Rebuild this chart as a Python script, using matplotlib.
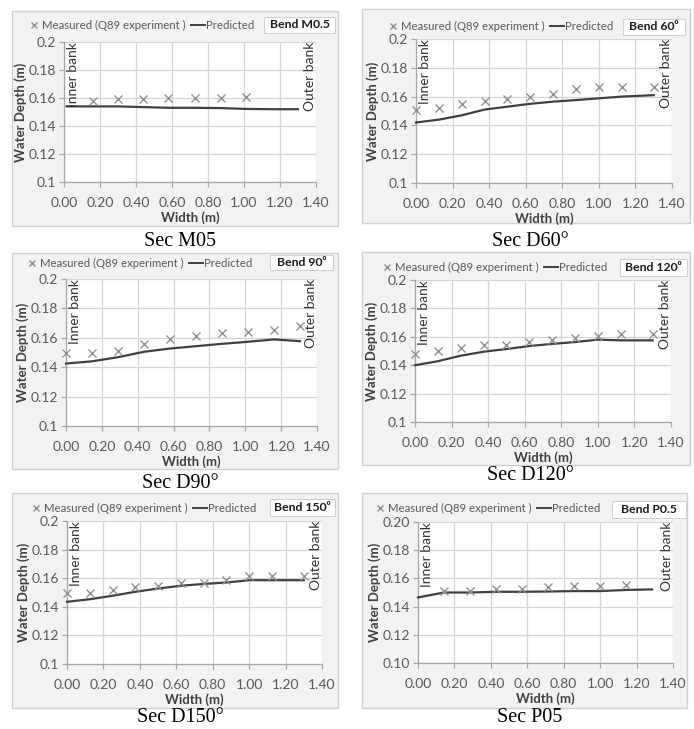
import matplotlib.pyplot as plt
from matplotlib.patches import Rectangle
from matplotlib.lines import Line2D

# ---- data ----
m05_meas_x = [0.16, 0.30, 0.44, 0.58, 0.73, 0.87, 1.01]
m05_meas_y = [0.158, 0.159, 0.159, 0.160, 0.160, 0.160, 0.161]
m05_pred_x = [0.015, 0.16, 0.30, 0.44, 0.58, 0.73, 0.87, 1.01, 1.15, 1.30]
m05_pred_y = [0.154, 0.154, 0.154, 0.1535, 0.153, 0.153, 0.1528, 0.1522, 0.152, 0.152]

d60_meas_x = [0.0, 0.125, 0.25, 0.375, 0.5, 0.625, 0.75, 0.875, 1.0, 1.125, 1.30]
d60_meas_y = [0.151, 0.152, 0.155, 0.157, 0.158, 0.160, 0.162, 0.165, 0.167, 0.167, 0.167]
d60_pred_x = [0.0, 0.125, 0.25, 0.375, 0.5, 0.625, 0.75, 0.875, 1.0, 1.125, 1.30]
d60_pred_y = [0.142, 0.144, 0.147, 0.151, 0.153, 0.155, 0.1565, 0.1576, 0.1588, 0.160, 0.161]

d90_meas_x = [0.0, 0.145, 0.29, 0.435, 0.58, 0.725, 0.87, 1.015, 1.16, 1.305]
d90_meas_y = [0.1495, 0.150, 0.151, 0.1555, 0.159, 0.161, 0.163, 0.164, 0.1655, 0.168]
d90_pred_x = [0.0, 0.145, 0.29, 0.435, 0.58, 0.725, 0.87, 1.015, 1.16, 1.305]
d90_pred_y = [0.1425, 0.144, 0.1468, 0.1505, 0.1527, 0.1543, 0.1559, 0.1573, 0.1589, 0.1577]

d120_meas_x = [0.0, 0.125, 0.25, 0.375, 0.5, 0.625, 0.75, 0.875, 1.0, 1.125, 1.30]
d120_meas_y = [0.148, 0.150, 0.152, 0.154, 0.154, 0.156, 0.158, 0.1595, 0.1607, 0.162, 0.162]
d120_pred_x = [0.0, 0.125, 0.25, 0.375, 0.5, 0.625, 0.75, 0.875, 1.0, 1.125, 1.30]
d120_pred_y = [0.140, 0.1428, 0.1467, 0.1495, 0.1514, 0.1535, 0.155, 0.1563, 0.158, 0.1575, 0.1575]

d150_meas_x = [0.0, 0.125, 0.25, 0.375, 0.5, 0.625, 0.75, 0.875, 1.0, 1.125, 1.30]
d150_meas_y = [0.150, 0.150, 0.152, 0.1535, 0.1547, 0.1563, 0.1565, 0.1586, 0.1612, 0.1616, 0.1616]
d150_pred_x = [0.0, 0.125, 0.25, 0.375, 0.5, 0.625, 0.75, 0.875, 1.0, 1.125, 1.30]
d150_pred_y = [0.1435, 0.1453, 0.1477, 0.1505, 0.1528, 0.1547, 0.156, 0.157, 0.1586, 0.1586, 0.1586]

p05_meas_x = [0.143, 0.285, 0.428, 0.57, 0.713, 0.855, 0.998, 1.14]
p05_meas_y = [0.1512, 0.1512, 0.1524, 0.1524, 0.1536, 0.1543, 0.1543, 0.155]
p05_pred_x = [0.0, 0.143, 0.285, 0.428, 0.57, 0.713, 0.855, 0.998, 1.14, 1.285]
p05_pred_y = [0.1465, 0.150, 0.150, 0.1505, 0.1505, 0.1507, 0.151, 0.151, 0.1518, 0.1522]

bend_labels = ["Bend M0.5", "Bend 60\u2070", "Bend 90\u2070", "Bend 120\u2070", "Bend 150\u2070", "Bend P0.5"]
captions = ["Sec M05", "Sec D60\u00b0", "Sec D90\u00b0", "Sec D120\u00b0", "Sec D150\u00b0", "Sec P05"]
x_ticks = [0.0, 0.2, 0.4, 0.6, 0.8, 1.0, 1.2, 1.4]
y_ticks = [0.10, 0.12, 0.14, 0.16, 0.18, 0.20]

# ---- layout in pixels: chart box, plot box, legend anchor, bend box, caption ----
W, H = 694, 729
layout = [
    dict(box=(12, 11, 338, 226), plot=(64, 42, 316, 182), leg=(27, 25), bend=(264, 17, 335, 33), cap=(180, 241)),
    dict(box=(362, 9, 690, 223), plot=(416, 39, 672, 183), leg=(386, 26), bend=(623, 19, 685, 35), cap=(530, 241)),
    dict(box=(12, 253, 338, 469), plot=(66, 279, 317, 426), leg=(25, 263), bend=(270, 255, 333, 270), cap=(180, 483)),
    dict(box=(362, 252, 690, 465), plot=(415, 280, 671, 422), leg=(380, 267), bend=(620, 259, 687, 276), cap=(530, 476)),
    dict(box=(12, 493, 338, 708), plot=(67, 521, 322, 664), leg=(29, 508), bend=(270, 499, 335, 516), cap=(180, 718)),
    dict(box=(362, 493, 687, 708), plot=(418, 522, 673, 663), leg=(373, 508), bend=(612, 501, 686, 518), cap=(530, 718)),
]
series = [
    (m05_meas_x, m05_meas_y, m05_pred_x, m05_pred_y),
    (d60_meas_x, d60_meas_y, d60_pred_x, d60_pred_y),
    (d90_meas_x, d90_meas_y, d90_pred_x, d90_pred_y),
    (d120_meas_x, d120_meas_y, d120_pred_x, d120_pred_y),
    (d150_meas_x, d150_meas_y, d150_pred_x, d150_pred_y),
    (p05_meas_x, p05_meas_y, p05_pred_x, p05_pred_y),
]

FONT = ["Lato", "DejaVu Sans"]
plt.rcParams["font.family"] = FONT


def fx(x):
    return x / W


def fy(y):
    return 1 - y / H


fig = plt.figure(figsize=(W / 100, H / 100), dpi=100)
fig.patch.set_facecolor("white")

for i, (lay, (mx, my, px, py)) in enumerate(zip(layout, series)):
    x0, y0, x1, y1 = lay["box"]
    fig.patches.append(Rectangle((fx(x0), fy(y1)), fx(x1 - x0), (y1 - y0) / H,
                                 transform=fig.transFigure, facecolor="#f2f2f2",
                                 edgecolor="#cfcfcf", lw=1.0, zorder=-5))
    a0, b0, a1, b1 = lay["plot"]
    ax = fig.add_axes([fx(a0), fy(b1), fx(a1 - a0), (b1 - b0) / H], zorder=2)
    ax.set_facecolor("white")
    ax.plot(px, py, color="#404040", lw=1.6, zorder=3, clip_on=False)
    ax.plot(mx, my, ls="none", marker="x", ms=6, mew=1.0, color="#919191", zorder=4, clip_on=False)
    ax.set_xlim(0, 1.4)
    ax.set_ylim(0.1, 0.2)
    ax.set_xticks(x_ticks)
    ax.set_yticks(y_ticks)
    ax.set_xticklabels(["%.2f" % v for v in x_ticks])
    if i == 5:
        ax.set_yticklabels(["%.2f" % v for v in y_ticks])
    else:
        ax.set_yticklabels(["%g" % round(v, 2) for v in y_ticks])
    ax.grid(True, color="#d4d4d4", lw=0.9)
    ax.set_axisbelow(True)
    for s in ["top", "right"]:
        ax.spines[s].set_visible(False)
    for s in ["left", "bottom"]:
        ax.spines[s].set_color("#a6a6a6")
        ax.spines[s].set_linewidth(0.9)
    ax.tick_params(colors="#a6a6a6", labelcolor="#595959", labelsize=10,
                   length=3.5, width=0.9, pad=2.5)
    ax.tick_params(axis="x", pad=7)
    ax.set_xlabel("Width (m)", fontsize=9.5, fontweight="bold", color="#404040", labelpad=2)
    ax.set_ylabel("Water Depth (m)", fontsize=9.5, fontweight="bold", color="#404040", labelpad=1)

    ax.text(0.012, 1.0, "Inner bank", transform=ax.transAxes, rotation=90,
            ha="left", va="top", fontsize=10, color="#333333")
    ax.text(1.0, 1.0, "Outer bank", transform=ax.transAxes, rotation=90,
            ha="right", va="top", fontsize=10, color="#333333")

    handles = [Line2D([], [], ls="none", marker="x", ms=5, mew=1.0, color="#919191"),
               Line2D([], [], color="#404040", lw=1.4)]
    lx, ly = lay["leg"]
    leg = fig.legend(handles, ["Measured (Q89 experiment )", "Predicted"], ncol=2,
                     loc="center left", bbox_to_anchor=(fx(lx), fy(ly)),
                     bbox_transform=fig.transFigure, frameon=False, fontsize=8.2,
                     labelcolor="#595959", handlelength=1.2, handletextpad=0.1,
                     columnspacing=0.5, borderaxespad=0, borderpad=0)
    leg.set_zorder(6)

    bx0, by0, bx1, by1 = lay["bend"]
    fig.patches.append(Rectangle((fx(bx0), fy(by1)), fx(bx1 - bx0), (by1 - by0) / H,
                                 transform=fig.transFigure, facecolor="white",
                                 edgecolor="#d0d0d0", lw=0.8, zorder=5))
    fig.text(fx((bx0 + bx1) / 2), fy((by0 + by1) / 2), bend_labels[i],
             ha="center", va="center", fontsize=8.8, fontweight="bold",
             color="#1a1a1a", zorder=7)

    cx, cy = lay["cap"]
    fig.text(fx(cx), fy(cy), captions[i], ha="center", va="center",
             fontsize=14.5, family="Liberation Serif", color="black")

fig.savefig("out.png", dpi=100)
